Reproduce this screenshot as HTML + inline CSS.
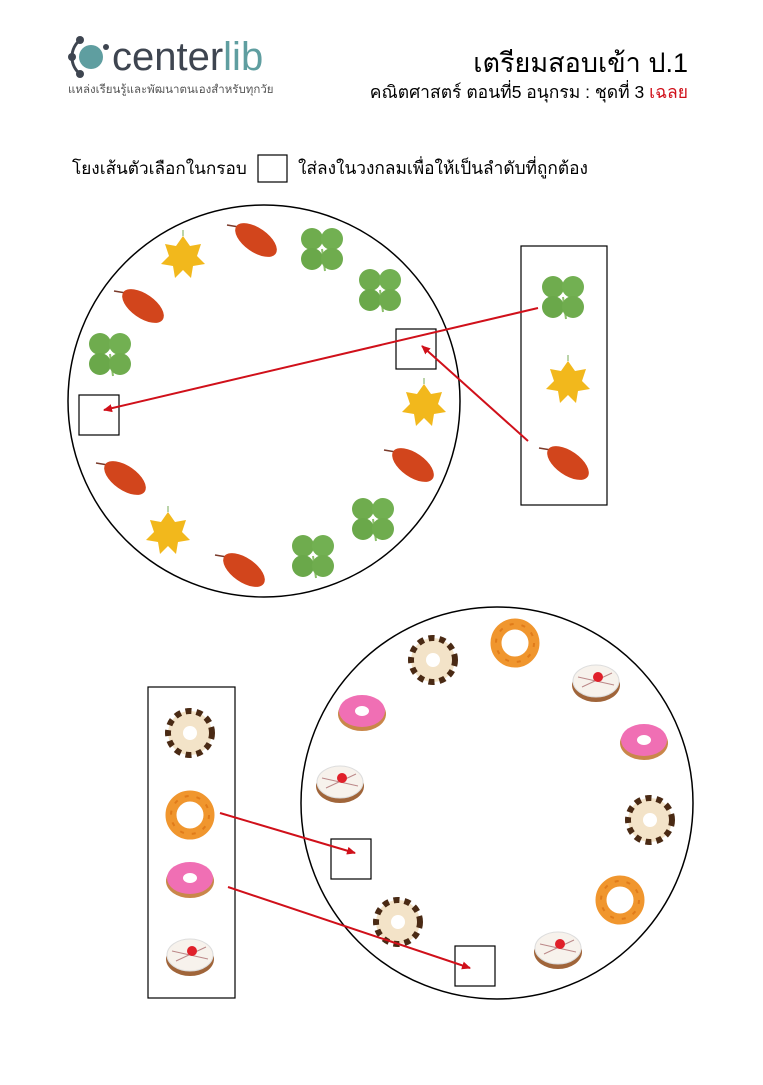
<!DOCTYPE html>
<html><head><meta charset="utf-8"><style>
body{margin:0;background:#fff;width:763px;height:1080px;overflow:hidden;font-family:"Liberation Sans","Noto Sans CJK SC",sans-serif}
</style></head><body>
<svg width="763" height="1080" viewBox="0 0 763 1080" xmlns="http://www.w3.org/2000/svg" font-family="Liberation Sans, Noto Sans CJK SC, sans-serif">
<defs>
 <g id="clover">
  <line x1="0" y1="0" x2="3" y2="22" stroke="#8bbf6a" stroke-width="2"/>
  <circle cx="-10" cy="-10" r="11" fill="#6fac4e"/><circle cx="10" cy="-10" r="11" fill="#72b052"/>
  <circle cx="-10" cy="10" r="11" fill="#6aa84a"/><circle cx="10" cy="10" r="11" fill="#6fac4e"/>
 </g>
 <g id="maple">
  <polygon points="0,-20 7,-10 18,-12 14,0 22,8 10,10 8,22 0,14 -8,22 -10,10 -22,8 -14,0 -18,-12 -7,-10" fill="#f2b81c"/>
  <line x1="0" y1="-20" x2="0" y2="-26" stroke="#7a5" stroke-width="1"/>
 </g>
 <g id="oak">
  <line x1="-26" y1="-12" x2="-14" y2="-10" stroke="#7a3a2a" stroke-width="1.5"/>
  <ellipse cx="3" cy="3" rx="24" ry="12" transform="rotate(35 3 3)" fill="#d2451c"/>
 </g>
 <g id="dstripe">
  <circle r="22" fill="#f3e3c8"/><circle r="22" fill="none" stroke="#4a2a14" stroke-width="6" stroke-dasharray="6 5"/>
  <circle r="7" fill="#fff"/>
 </g>
 <g id="dring">
  <circle r="19" fill="none" stroke="#f0962e" stroke-width="11"/><circle r="19" fill="none" stroke="#e07b1a" stroke-width="2" stroke-dasharray="4 8"/>
 </g>
 <g id="dpink">
  <ellipse cx="0" cy="3" rx="24" ry="17" fill="#c9874a"/><ellipse rx="23" ry="16" fill="#f06fb4"/><ellipse rx="7" ry="5" fill="#fff"/>
 </g>
 <g id="dwhite">
  <ellipse cx="0" cy="4" rx="24" ry="17" fill="#a0653a"/><ellipse rx="23" ry="16" fill="#f7f2ec" stroke="#ddd"/>
  <path d="M-18,-4 L18,4 M-14,6 L16,-8" stroke="#b88" stroke-width="1"/><circle cx="2" cy="-4" r="5" fill="#e0202a"/>
 </g>
 <marker id="ah" markerWidth="10" markerHeight="10" refX="8" refY="5" orient="auto" markerUnits="userSpaceOnUse"><path d="M0,1 L9,5 L0,9 z" fill="#d0101a"/></marker>
</defs>

<!-- logo -->
<circle cx="91" cy="57" r="12" fill="#5f9ea0"/>
<path d="M80,40 A22,22 0 0 0 80,74" fill="none" stroke="#3e4550" stroke-width="3"/>
<circle cx="80" cy="40" r="4" fill="#3e4550"/><circle cx="72" cy="57" r="4" fill="#3e4550"/><circle cx="80" cy="74" r="4" fill="#3e4550"/><circle cx="106" cy="47" r="3" fill="#3e4550"/>
<text x="112" y="70" font-size="40" fill="#3e4550">center<tspan fill="#5f9ea0">lib</tspan></text>
<text x="68" y="93" font-size="11.5" fill="#555">แหล่งเรียนรู้และพัฒนาตนเองสำหรับทุกวัย</text>

<text x="688" y="72" font-size="27" text-anchor="end" fill="#000">เตรียมสอบเข้า ป.1</text>
<text x="688" y="98" font-size="17.5" text-anchor="end" fill="#000">คณิตศาสตร์ ตอนที่5 อนุกรม : ชุดที่ 3 <tspan fill="#d0101a">เฉลย</tspan></text>

<text x="72" y="174" font-size="17.2">โยงเส้นตัวเลือกในกรอบ</text>
<rect x="258" y="155" width="29" height="27" fill="none" stroke="#000" stroke-width="1.2"/>
<text x="298" y="174" font-size="17.3">ใส่ลงในวงกลมเพื่อให้เป็นลำดับที่ถูกต้อง</text>

<!-- circle 1 -->
<circle cx="264" cy="401" r="196" fill="none" stroke="#000" stroke-width="1.5"/>
<use href="#maple" x="183" y="256"/><use href="#oak" x="253" y="237"/><use href="#clover" x="322" y="249"/>
<use href="#clover" x="380" y="290"/><use href="#oak" x="140" y="303"/><use href="#clover" x="110" y="354"/>
<use href="#maple" x="424" y="404"/><use href="#oak" x="410" y="462"/><use href="#oak" x="122" y="475"/>
<use href="#clover" x="373" y="519"/><use href="#maple" x="168" y="532"/><use href="#clover" x="313" y="556"/>
<use href="#oak" x="241" y="567"/>
<rect x="396" y="329" width="40" height="40" fill="none" stroke="#000" stroke-width="1.2"/>
<rect x="79" y="395" width="40" height="40" fill="none" stroke="#000" stroke-width="1.2"/>
<rect x="521" y="246" width="86" height="259" fill="none" stroke="#000" stroke-width="1.2"/>
<use href="#clover" x="563" y="297"/><use href="#maple" x="568" y="381"/><use href="#oak" x="565" y="460"/>
<line x1="538" y1="308" x2="104" y2="410" stroke="#d0101a" stroke-width="2" marker-end="url(#ah)"/>
<line x1="528" y1="441" x2="422" y2="346" stroke="#d0101a" stroke-width="2" marker-end="url(#ah)"/>

<!-- circle 2 -->
<circle cx="497" cy="803" r="196" fill="none" stroke="#000" stroke-width="1.5"/>
<use href="#dstripe" x="433" y="660"/><use href="#dring" x="515" y="643"/><use href="#dwhite" x="596" y="681"/>
<use href="#dpink" x="362" y="711"/><use href="#dpink" x="644" y="740"/><use href="#dwhite" x="340" y="782"/>
<use href="#dstripe" x="650" y="820"/><use href="#dring" x="620" y="900"/><use href="#dstripe" x="398" y="922"/>
<use href="#dwhite" x="558" y="948"/>
<rect x="331" y="839" width="40" height="40" fill="none" stroke="#000" stroke-width="1.2"/>
<rect x="455" y="946" width="40" height="40" fill="none" stroke="#000" stroke-width="1.2"/>
<rect x="148" y="687" width="87" height="311" fill="none" stroke="#000" stroke-width="1.2"/>
<use href="#dstripe" x="190" y="733"/><use href="#dring" x="190" y="815"/><use href="#dpink" x="190" y="878"/><use href="#dwhite" x="190" y="955"/>
<line x1="220" y1="813" x2="355" y2="853" stroke="#d0101a" stroke-width="2" marker-end="url(#ah)"/>
<line x1="228" y1="887" x2="470" y2="968" stroke="#d0101a" stroke-width="2" marker-end="url(#ah)"/>
</svg>
</body></html>
